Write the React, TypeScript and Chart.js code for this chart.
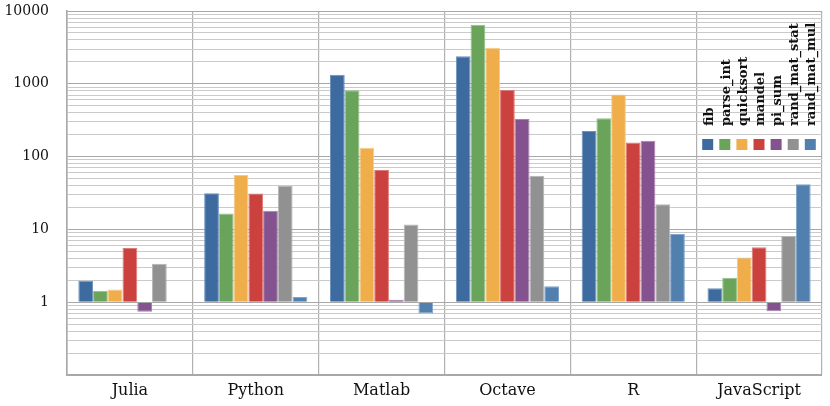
import React, { useEffect, useRef } from 'react';
import { Chart, registerables } from 'chart.js';

Chart.register(...registerables);

const languages = ['Julia', 'Python', 'Matlab', 'Octave', 'R', 'JavaScript'];
const benchmarks = ['fib', 'parse_int', 'quicksort', 'mandel', 'pi_sum', 'rand_mat_stat', 'rand_mat_mul'];

const fib = [1.97, 31.47, 1336.37, 2383.8, 225.23, 1.55];
const parseInt_ = [1.44, 16.5, 815.19, 6454.5, 337.52, 2.17];
const quicksort = [1.49, 55.84, 132.71, 3127.5, 713.3, 4.11];
const mandel = [5.55, 31.15, 65.44, 824.28, 156.68, 5.67];
const piSum = [0.74, 18.03, 1.08, 328.35, 164.8, 0.75];
const randMatStat = [3.37, 39.34, 11.64, 54.54, 22.08, 8.14];
const randMatMul = [1.0, 1.18, 0.7, 1.65, 8.64, 41.79];

const seriesValues = [fib, parseInt_, quicksort, mandel, piSum, randMatStat, randMatMul];
const colors = ['#3d6a9f', '#6aa35a', '#f0ae4b', '#cb413d', '#84528e', '#909190', '#5280ae'];
const borderColors = ['#6f93bd', '#94c085', '#f6cb86', '#de7a77', '#a782b0', '#b5b6b5', '#82a5c9'];

const yTickLabels = [1, 10, 100, 1000, 10000];
const yMin = 0.1;
const yMax = 10000;

const FONT = '"DejaVu Serif", serif';

const verticalLegend = {
  id: 'verticalLegend',
  afterDraw(chart: any) {
    const { ctx, chartArea } = chart;
    ctx.save();
    chart.data.datasets.forEach((ds: any, i: number) => {
      const cx = chartArea.right - 114.3 + i * 17.1;
      ctx.fillStyle = ds.backgroundColor;
      ctx.fillRect(cx - 5.5, chartArea.top + 128, 11, 11);
      ctx.save();
      ctx.translate(cx + 1.5, chartArea.top + 115);
      ctx.rotate(-Math.PI / 2);
      ctx.fillStyle = '#111';
      ctx.font = 'bold 13px ' + FONT;
      ctx.textAlign = 'left';
      ctx.textBaseline = 'middle';
      ctx.fillText(ds.label, 0, 0);
      ctx.restore();
    });
    ctx.restore();
  },
};

function isDecade(v: number) {
  const l = Math.log10(v);
  return Math.abs(l - Math.round(l)) < 1e-6;
}

export default function App() {
  const ref = useRef<HTMLCanvasElement | null>(null);

  useEffect(() => {
    document.body.style.margin = '0';
    const canvas = ref.current;
    if (!canvas) return;

    const gridValues: number[] = [];
    for (let e = Math.log10(yMin); e < Math.log10(yMax); e++) {
      for (let s = 1; s <= 9; s++) gridValues.push(Math.round(s * Math.pow(10, e) * 1000) / 1000);
    }
    gridValues.push(yMax);

    const chart = new Chart(canvas, {
      type: 'bar',
      data: {
        labels: languages,
        datasets: benchmarks.map((b, i) => ({
          label: b,
          data: seriesValues[i],
          backgroundColor: colors[i],
          borderColor: borderColors[i],
          borderWidth: 1,
          base: 1,
          categoryPercentage: 0.82,
          barPercentage: 1.0,
        })),
      },
      options: {
        responsive: false,
        animation: false,
        layout: { padding: { top: 11, right: 8, left: 0, bottom: 0 } },
        plugins: {
          legend: { display: false },
          tooltip: { enabled: false },
        },
        scales: {
          x: {
            afterFit(s: any) {
              s.height = 31;
            },
            grid: { color: '#b0b0b0', drawTicks: false, offset: true, lineWidth: 1.2 },
            border: { color: '#a8a8a8', width: 1.6 },
            ticks: { padding: 6, font: { family: FONT, size: 16 }, color: '#111' },
          },
          y: {
            type: 'logarithmic',
            min: yMin,
            max: yMax,
            afterFit(s: any) {
              s.width = 67;
            },
            afterBuildTicks(s: any) {
              s.ticks = gridValues.map((v) => ({ value: v, major: isDecade(v) }));
            },
            grid: {
              drawTicks: true,
              tickLength: 18,
              tickColor: 'rgba(0,0,0,0)',
              color: (c: any) => (c.tick && isDecade(c.tick.value) ? '#a8a8a8' : '#cacaca'),
              lineWidth: 1,
            },
            border: { color: '#a8a8a8', width: 1.6 },
            ticks: {
              autoSkip: false,
              padding: 0,
              font: { family: FONT, size: 14 },
              color: '#111',
              callback: (v: any) => {
                const n = Number(v);
                return yTickLabels.some((t) => Math.abs(t - n) < 1e-6) ? String(Math.round(n)) : '';
              },
            },
          },
        },
      },
      plugins: [verticalLegend],
    } as any);

    return () => chart.destroy();
  }, []);

  return (
    <div style={{ width: 830, height: 406 }}>
      <canvas ref={ref} width={830} height={406} />
    </div>
  );
}
